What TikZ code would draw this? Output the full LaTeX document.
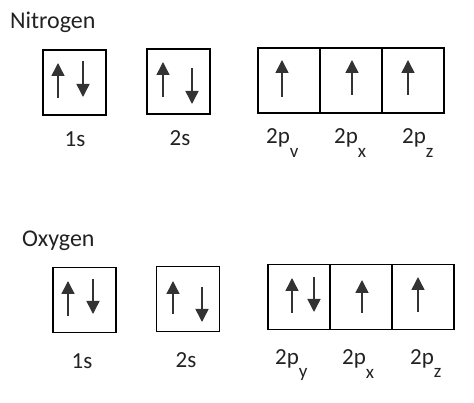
\documentclass[tikz,border=0pt]{standalone}
\usepackage{fontspec}
\setmainfont{Carlito}
\usetikzlibrary{arrows.meta}
\definecolor{ink}{HTML}{222222}
\definecolor{arr}{HTML}{333333}
\newcommand{\orbsub}[1]{\raisebox{-0.6em}{\fontsize{19}{19}\selectfont #1}}
\begin{document}
\begin{tikzpicture}[x=1pt,y=-1pt,
  orb/.style={draw=black,line width=1.4pt,minimum width=63pt,minimum height=65pt,inner sep=0pt,outer sep=0pt},
  spin/.style={draw=arr,line width=1.5pt,-{Triangle[width=13pt,length=13pt]},arr},
  head/.style={font=\fontsize{24}{24}\selectfont,text=ink,anchor=base west,inner sep=0pt},
  lab/.style={font=\fontsize{23}{23}\selectfont,text=ink,anchor=base,inner sep=0pt}]
\useasboundingbox (0,0) rectangle (474,403);
% ---------- Nitrogen
\node[head] (nt) at (10,29) {Nitrogen};
\node[orb] (n1s) at (74.5,82.5) {};
\node[orb] (n2s) at (178.5,81.5) {};
\node[orb,minimum width=62pt] (n2py) at (289,80.5) {};
\node[orb,minimum width=62pt] (n2px) at (351,80.5) {};
\node[orb,minimum width=62pt] (n2pz) at (413,80.5) {};
\draw[spin] (58,98) -- (58,63);
\draw[spin] (83,61) -- (83,97);
\draw[spin] (163,97) -- (163,62);
\draw[spin] (192,68) -- (192,104);
\draw[spin] (282,97) -- (282,60);
\draw[spin] (352,95) -- (352,60);
\draw[spin] (408,95) -- (408,60);
\node[lab] (n1sl) at (75,147) {1s};
\node[lab] (n2sl) at (180,146) {2s};
\node[lab,anchor=base west] (n2pyl) at (266,144) {2p\orbsub{v}};
\node[lab,anchor=base west] (n2pxl) at (334,144) {2p\orbsub{x}};
\node[lab,anchor=base west] (n2pzl) at (402,144) {2p\orbsub{z}};
% ---------- Oxygen
\node[head] (ox) at (22,247) {Oxygen};
\node[orb] (o1s) at (84.5,300) {};
\node[orb] (o2s) at (188,299) {};
\node[orb,minimum width=62pt] (o2py) at (299,297) {};
\node[orb,minimum width=62pt] (o2px) at (361,297) {};
\node[orb,minimum width=62pt] (o2pz) at (423,297) {};
\draw[spin] (68,316) -- (68,281);
\draw[spin] (93,279) -- (93,314);
\draw[spin] (173,314) -- (173,281);
\draw[spin] (202,287) -- (202,322);
\draw[spin] (292,313) -- (292,278);
\draw[spin] (314,277) -- (314,312);
\draw[spin] (362,313) -- (362,280);
\draw[spin] (418,312) -- (418,277);
\node[lab] (o1sl) at (82,368) {1s};
\node[lab] (o2sl) at (186,367) {2s};
\node[lab,anchor=base west] (o2pyl) at (275,364) {2p\orbsub{y}};
\node[lab,anchor=base west] (o2pxl) at (342,365) {2p\orbsub{x}};
\node[lab,anchor=base west] (o2pzl) at (410,364) {2p\orbsub{z}};
\end{tikzpicture}
\end{document}
